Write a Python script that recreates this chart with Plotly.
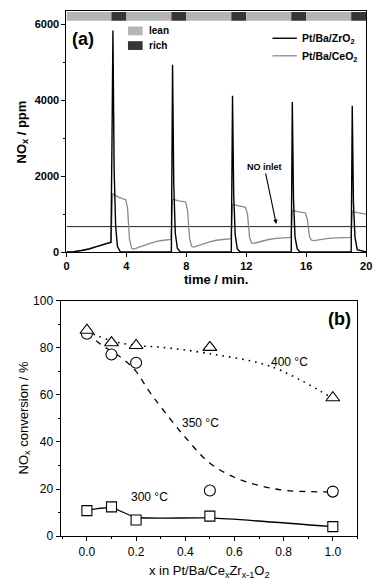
import plotly.graph_objects as go

# ---------------- Panel (a) data ----------------
time_zr = [0, 0.5, 1.0, 1.5, 2.0, 2.5, 2.97, 3.04, 3.1, 3.18, 3.28, 3.4, 3.6,
           7.0, 7.03, 7.08, 7.16, 7.26, 7.4, 7.6,
           11.0, 11.04, 11.08, 11.16, 11.26, 11.4, 11.6,
           15.0, 15.03, 15.07, 15.15, 15.25, 15.4, 15.6,
           19.0, 19.03, 19.07, 19.15, 19.25, 19.4, 20.0]
nox_zr = [0, 10, 40, 80, 140, 200, 260, 3000, 5840, 2200, 700, 150, 0,
          0, 2500, 4940, 1800, 500, 100, 0,
          0, 2000, 4120, 1500, 450, 80, 0,
          0, 2000, 3960, 1400, 400, 80, 0,
          0, 2000, 3860, 1300, 400, 60, 0]

time_ce = [0, 0.5, 1.0, 1.5, 2.0, 2.5, 2.97, 3.08, 3.15, 3.5, 3.95, 4.08, 4.2, 4.35, 4.5, 5.0, 5.5, 6.0, 6.5, 6.98,
           7.08, 7.15, 7.5, 7.95, 8.08, 8.22, 8.35, 8.5, 9.0, 9.5, 10.0, 10.5, 10.98,
           11.08, 11.15, 11.5, 11.95, 12.08, 12.22, 12.35, 12.5, 13.0, 13.5, 14.0, 14.5, 14.98,
           15.08, 15.15, 15.5, 15.95, 16.08, 16.22, 16.35, 16.5, 17.0, 17.5, 18.0, 18.5, 18.98,
           19.08, 19.15, 19.5, 20.0]
nox_ce = [0, 10, 40, 80, 140, 200, 250, 1545, 1520, 1440, 1380, 1150, 350, 100, 75, 150, 220, 280, 310, 330,
          1390, 1380, 1350, 1320, 1100, 350, 150, 130, 200, 260, 310, 340, 355,
          1260, 1250, 1220, 1180, 1000, 380, 240, 230, 290, 330, 360, 375, 385,
          1100, 1090, 1060, 1030, 850, 400, 310, 300, 335, 360, 375, 380, 385,
          1080, 1060, 1030, 1000]

no_inlet_ppm = 670
time_range = [0, 20]

phase_edges = [0, 3, 4, 7, 8, 11, 12, 15, 16, 19, 20]
phase_kinds = ["lean", "rich", "lean", "rich", "lean", "rich", "lean", "rich", "lean", "rich"]

# ---------------- Panel (b) data ----------------
x_pts = [0.0, 0.1, 0.2, 0.5, 1.0]
conv_400 = [87.5, 82.2, 81.0, 80.2, 58.8]
conv_350 = [86.0, 77.2, 73.7, 19.4, 18.9]
conv_300 = [10.8, 12.4, 6.8, 8.5, 4.0]

fit400_x = [0.0, 0.1, 0.2, 0.3, 0.5, 0.75, 1.0]
fit400_y = [87.0, 83.0, 81.0, 80.3, 77.5, 72.0, 58.5]
fit350_x = [0.0, 0.05, 0.1, 0.15, 0.2, 0.25, 0.3, 0.4, 0.5, 0.6, 0.7, 0.8, 0.9, 1.0]
fit350_y = [86.5, 82.0, 78.5, 75.0, 70.0, 62.0, 55.0, 42.0, 31.0, 25.0, 21.5, 19.5, 18.9, 18.8]
fit300_x = [0.0, 0.1, 0.2, 0.5, 1.0]
fit300_y = [11.0, 12.0, 8.0, 7.7, 4.0]

W, H = 380, 587
FONT = "Liberation Sans, Arial, sans-serif"
LEAN_C = "#b4b4b4"
RICH_C = "#363636"
GRAY_LINE = "#8a8a8a"


def px(x):
    return x / W


def py(y):
    return 1 - y / H


def bf(size):
    return dict(family=FONT, size=size, color="black", weight="bold")


def rf(size):
    return dict(family=FONT, size=size, color="black")


fig = go.Figure()

# Panel (a)
fig.add_trace(go.Scatter(x=time_range, y=[no_inlet_ppm, no_inlet_ppm], mode="lines",
                         line=dict(color="#222222", width=1), xaxis="x", yaxis="y", showlegend=False))
fig.add_trace(go.Scatter(x=time_ce, y=nox_ce, mode="lines", name="Pt/Ba/CeO2",
                         line=dict(color=GRAY_LINE, width=1.3), xaxis="x", yaxis="y", showlegend=False))
fig.add_trace(go.Scatter(x=time_zr, y=nox_zr, mode="lines", name="Pt/Ba/ZrO2",
                         line=dict(color="black", width=1.4), xaxis="x", yaxis="y", showlegend=False))

# Panel (b) fits
fig.add_trace(go.Scatter(x=fit400_x, y=fit400_y, mode="lines",
                         line=dict(color="black", width=1.6, dash="1.6px,5px", shape="spline"),
                         xaxis="x2", yaxis="y2", showlegend=False))
fig.add_trace(go.Scatter(x=fit350_x, y=fit350_y, mode="lines",
                         line=dict(color="black", width=1.3, dash="6px,6px", shape="spline"),
                         xaxis="x2", yaxis="y2", showlegend=False))
fig.add_trace(go.Scatter(x=fit300_x, y=fit300_y, mode="lines",
                         line=dict(color="black", width=1.3, shape="spline", smoothing=0.6),
                         xaxis="x2", yaxis="y2", showlegend=False))
# markers
fig.add_trace(go.Scatter(x=x_pts, y=conv_350, mode="markers",
                         marker=dict(symbol="circle", size=11, color="white", line=dict(width=1.1, color="black")),
                         xaxis="x2", yaxis="y2", showlegend=False))
fig.add_trace(go.Scatter(x=x_pts, y=conv_400, mode="markers",
                         marker=dict(symbol="triangle-up", size=12, color="white", line=dict(width=1.1, color="black")),
                         xaxis="x2", yaxis="y2", showlegend=False))
fig.add_trace(go.Scatter(x=x_pts, y=conv_300, mode="markers",
                         marker=dict(symbol="square", size=10, color="white", line=dict(width=1.1, color="black")),
                         xaxis="x2", yaxis="y2", showlegend=False))

shapes = []
for i, kind in enumerate(phase_kinds):
    shapes.append(dict(type="rect", xref="x", yref="y domain", x0=phase_edges[i], x1=phase_edges[i + 1],
                       y0=0.959, y1=0.995, fillcolor=LEAN_C if kind == "lean" else RICH_C, line=dict(width=0),
                       layer="below"))
# legend boxes lean / rich
shapes.append(dict(type="rect", xref="paper", yref="paper", x0=px(128), x1=px(143), y0=py(29), y1=py(20),
                   fillcolor=LEAN_C, line=dict(width=0)))
shapes.append(dict(type="rect", xref="paper", yref="paper", x0=px(128), x1=px(143), y0=py(44), y1=py(35),
                   fillcolor=RICH_C, line=dict(width=0)))
# line legend samples
shapes.append(dict(type="line", xref="paper", yref="paper", x0=px(276), x1=px(301), y0=py(32), y1=py(32),
                   line=dict(color="black", width=1.4)))
shapes.append(dict(type="line", xref="paper", yref="paper", x0=px(276), x1=px(301), y0=py(50), y1=py(50),
                   line=dict(color=GRAY_LINE, width=1.3)))


def label(x, y, text, font, xanchor="center", angle=0):
    return dict(xref="paper", yref="paper", x=px(x), y=py(y), text=text, showarrow=False,
                xanchor=xanchor, yanchor="middle", textangle=angle, font=font)


ann = [
    label(147, 24, "lean", bf(10), "left"),
    label(147, 39, "rich", bf(10), "left"),
    label(304, 33, "Pt/Ba/ZrO<sub>2</sub>", bf(10.5), "left"),
    label(304, 51, "Pt/Ba/CeO<sub>2</sub>", bf(10.5), "left"),
    label(69, 33, "(a)", bf(18), "left"),
    label(359, 320, "(b)", bf(18), "right"),
    label(20, 128, "NO<sub>x</sub> / ppm", bf(13), "center", -90),
    label(218, 279, "time / min.", bf(13)),
    label(22, 421, "NO<sub>x</sub> conversion / %", rf(13), "center", -90),
    label(212, 578, "x in Pt/Ba/Ce<sub>x</sub>Zr<sub>x-1</sub>O<sub>2</sub>", rf(13)),
    label(293, 364, "400 °C", rf(12)),
    label(202, 426, "350 °C", rf(12)),
    label(150, 502, "300 °C", rf(12)),
    dict(xref="x", yref="y", x=14.0, y=740, text="NO inlet", showarrow=True, arrowhead=2, arrowsize=0.8,
         arrowwidth=1.1, arrowcolor="black", ax=-12, ay=-57, font=bf(9)),
]

axis_common = dict(showline=True, linecolor="black", linewidth=1.2, mirror=True, ticks="outside",
                   tickcolor="black", ticklen=4, tickwidth=1, showgrid=False, zeroline=False)

fig.update_layout(
    width=W, height=H, margin=dict(l=0, r=0, t=0, b=0),
    paper_bgcolor="white", plot_bgcolor="white",
    font=dict(family=FONT, color="black"),
    xaxis=dict(domain=[px(65), px(372)], range=[0, 20], tickvals=[0, 4, 8, 12, 16, 20],
               tickfont=bf(11), anchor="y", **axis_common),
    yaxis=dict(domain=[py(251), py(4)], range=[0, 6360], tickvals=[0, 2000, 4000, 6000],
               minor=dict(tickvals=[1000, 3000, 5000], ticks="outside", ticklen=2, tickcolor="black"),
               tickfont=bf(11), anchor="x", **axis_common),
    xaxis2=dict(domain=[px(59), px(363)], range=[-0.107, 1.1], tickvals=[0.0, 0.2, 0.4, 0.6, 0.8, 1.0],
                ticktext=["0.0", "0.2", "0.4", "0.6", "0.8", "1.0"],
                minor=dict(tickvals=[-0.1, 0.1, 0.3, 0.5, 0.7, 0.9, 1.1], ticks="outside", ticklen=2,
                           tickcolor="black"),
                tickfont=rf(12), anchor="y2", **axis_common),
    yaxis2=dict(domain=[py(542), py(301)], range=[0, 100], tickvals=[0, 20, 40, 60, 80, 100],
                minor=dict(tickvals=[10, 30, 50, 70, 90], ticks="outside", ticklen=2, tickcolor="black"),
                tickfont=rf(12), anchor="x2", **axis_common),
    shapes=shapes, annotations=ann,
)

fig.write_html("out.html", config={"displayModeBar": False},
               post_script="document.body.style.margin='0px';document.body.style.overflow='hidden';")
